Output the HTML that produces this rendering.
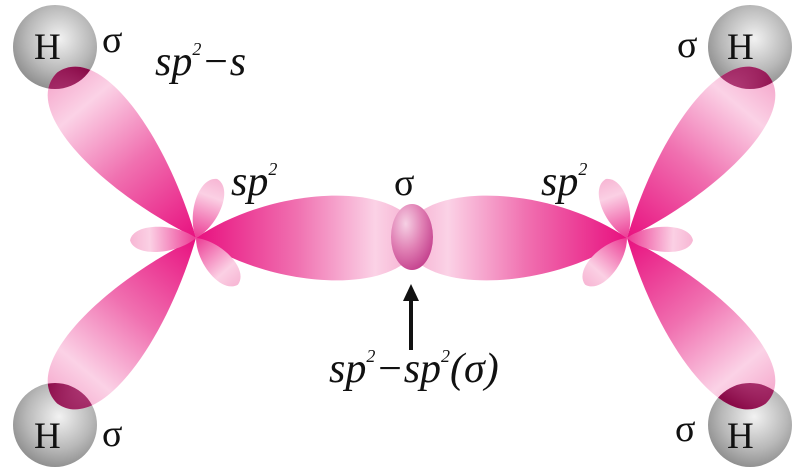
<!DOCTYPE html>
<html><head><meta charset="utf-8"><style>
html,body{margin:0;padding:0;background:#fff;}
svg{display:block;}
text{font-family:"Liberation Serif","DejaVu Serif",serif;fill:#111;}
.it{font-style:italic;}
</style></head><body>
<svg width="793" height="471" viewBox="0 0 793 471" xmlns="http://www.w3.org/2000/svg">
<defs>
<linearGradient id="lg" x1="0" y1="0" x2="1" y2="0">
<stop offset="0" stop-color="#e8107f"/>
<stop offset="0.45" stop-color="#f070b0"/>
<stop offset="0.8" stop-color="#fbd2e6"/>
<stop offset="1" stop-color="#f5a8cc"/>
</linearGradient>
<linearGradient id="sg" x1="0" y1="0" x2="1" y2="0">
<stop offset="0" stop-color="#ec3a94"/>
<stop offset="0.7" stop-color="#fbd0e4"/>
<stop offset="1" stop-color="#f7b6d4"/>
</linearGradient>
<radialGradient id="hg" cx="0.55" cy="0.4" r="0.65">
<stop offset="0" stop-color="#f2f2f2"/>
<stop offset="0.6" stop-color="#b8b8b8"/>
<stop offset="1" stop-color="#888"/>
</radialGradient>
<radialGradient id="og" cx="0.4" cy="0.3" r="0.75">
<stop offset="0" stop-color="#f4d8e6"/>
<stop offset="0.4" stop-color="#c0508a"/>
<stop offset="1" stop-color="#8a0a48"/>
</radialGradient>
<radialGradient id="mg" cx="0.35" cy="0.3" r="0.8">
<stop offset="0" stop-color="#f6d0e4"/>
<stop offset="0.5" stop-color="#e080b4"/>
<stop offset="1" stop-color="#c03888"/>
</radialGradient>
<path id="big" d="M0,0 C100,-44 212,-52 216,0 C212,52 100,44 0,0Z"/>
<path id="hor" d="M0,0 C80,-55 215,-58 224,0 C215,58 80,55 0,0Z"/>
<path id="sm" d="M0,0 C20,-20 62,-22 66,0 C62,22 20,20 0,0Z"/>
<clipPath id="c1"><circle cx="55" cy="47" r="42"/></clipPath>
<clipPath id="c2"><circle cx="55" cy="425" r="42"/></clipPath>
<clipPath id="c3"><circle cx="750" cy="47" r="42"/></clipPath>
<clipPath id="c4"><circle cx="750" cy="425" r="42"/></clipPath>
</defs>

<circle cx="55" cy="47" r="42" fill="url(#hg)"/>
<circle cx="55" cy="425" r="42" fill="url(#hg)"/>
<circle cx="750" cy="47" r="42" fill="url(#hg)"/>
<circle cx="750" cy="425" r="42" fill="url(#hg)"/>
<text x="34" y="59" font-size="37">H</text>
<text x="34" y="448" font-size="37">H</text>
<text x="727" y="59" font-size="37">H</text>
<text x="727" y="448" font-size="37">H</text>

<use href="#hor" fill="url(#lg)" transform="translate(196,238)"/>
<use href="#hor" fill="url(#lg)" transform="translate(627,238) rotate(180)"/>
<ellipse cx="412" cy="237" rx="21" ry="33" fill="url(#mg)"/>

<use href="#big" fill="url(#lg)" transform="translate(196,238) rotate(-130)"/>
<use href="#big" fill="url(#lg)" transform="translate(196,238) rotate(130)"/>
<use href="#big" fill="url(#lg)" transform="translate(627,238) rotate(-50)"/>
<use href="#big" fill="url(#lg)" transform="translate(627,238) rotate(50)"/>
<g clip-path="url(#c1)"><use href="#big" fill="url(#og)" transform="translate(196,238) rotate(-130)"/></g>
<g clip-path="url(#c2)"><use href="#big" fill="url(#og)" transform="translate(196,238) rotate(130)"/></g>
<g clip-path="url(#c3)"><use href="#big" fill="url(#og)" transform="translate(627,238) rotate(-50)"/></g>
<g clip-path="url(#c4)"><use href="#big" fill="url(#og)" transform="translate(627,238) rotate(50)"/></g>

<use href="#sm" fill="url(#sg)" transform="translate(196,238) rotate(-70) scale(0.95,0.85)"/>
<use href="#sm" fill="url(#sg)" transform="translate(196,238) rotate(178) scale(1.0,0.8)"/>
<use href="#sm" fill="url(#sg)" transform="translate(196,238) rotate(48) scale(0.95,0.85)"/>
<use href="#sm" fill="url(#sg)" transform="translate(627,238) rotate(-110) scale(0.95,0.85)"/>
<use href="#sm" fill="url(#sg)" transform="translate(627,238) rotate(2) scale(1.0,0.8)"/>
<use href="#sm" fill="url(#sg)" transform="translate(627,238) rotate(132) scale(0.95,0.85)"/>

<text x="102" y="52" font-size="38">σ</text>
<text x="102" y="446" font-size="38">σ</text>
<text x="677" y="57" font-size="38">σ</text>
<text x="675" y="441" font-size="38">σ</text>
<text x="394" y="195" font-size="38">σ</text>
<text class="it" x="155" y="75" font-size="42">sp<tspan font-size="18" dy="-20">2</tspan><tspan dy="20">−s</tspan></text>
<text class="it" x="231" y="195" font-size="42">sp<tspan font-size="18" dy="-20">2</tspan></text>
<text class="it" x="541" y="195" font-size="42">sp<tspan font-size="18" dy="-20">2</tspan></text>
<text class="it" x="329" y="382" font-size="42">sp<tspan font-size="18" dy="-20">2</tspan><tspan dy="20">−sp</tspan><tspan font-size="18" dy="-20">2</tspan><tspan dy="20">(σ)</tspan></text>

<line x1="411" y1="350" x2="411" y2="298" stroke="#111" stroke-width="4"/>
<polygon points="411,284 403,301 419,301" fill="#111"/>
</svg>
</body></html>
